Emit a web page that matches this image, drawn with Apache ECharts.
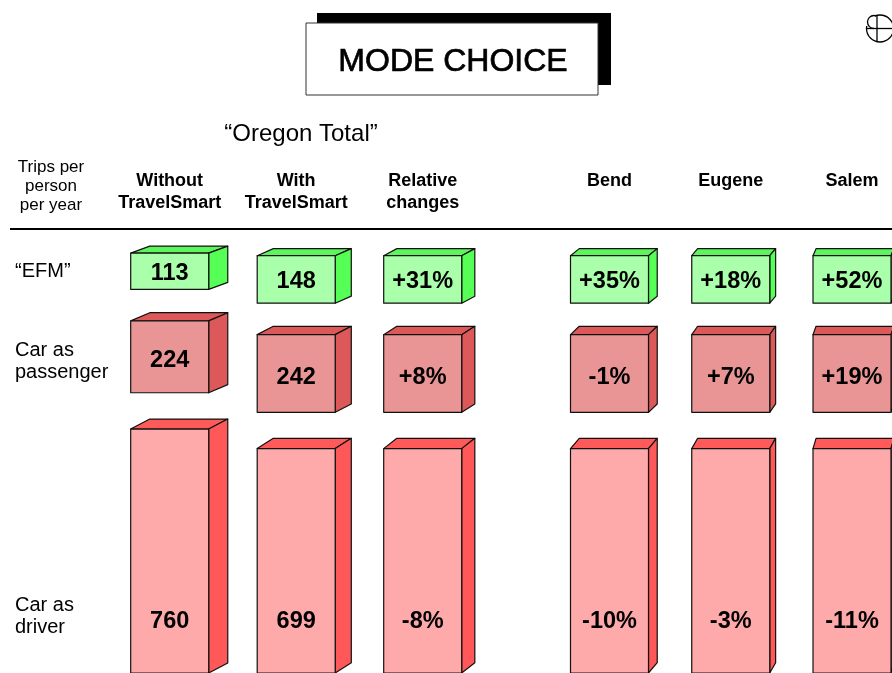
<!DOCTYPE html>
<html>
<head>
<meta charset="utf-8">
<script src="https://cdn.jsdelivr.net/npm/echarts@6/dist/echarts.min.js"></script>
<style>html,body{margin:0;padding:0;background:#fff}#c{width:892px;height:673px}</style>
</head>
<body>
<div id="c"></div>
<script>
// ---- data ----
var oregonCols = ['Without\nTravelSmart', 'With\nTravelSmart', 'Relative\nchanges'];
var cityCols = ['Bend', 'Eugene', 'Salem'];
var modes = ['\u201cEFM\u201d', 'Car as\npassenger', 'Car as\ndriver'];
var withoutTrips = [113, 224, 760];
var withTrips = [148, 242, 699];
var relativeChange = [31, 8, -8];
var bendChange = [35, -1, -10];
var eugeneChange = [18, 7, -3];
var salemChange = [52, 19, -11];

// ---- layout constants ----
var GAP_DP = 113, GAP_PE = 98, DRIVER_LABEL = 160;
var FONT = "'Liberation Sans', Arial, Helvetica, sans-serif";
var rowColors = [
  {front: '#aaffaa', side: '#55ff55', top: '#5cf55c'},
  {front: '#e99595', side: '#dd5858', top: '#dd5858'},
  {front: '#ffaaaa', side: '#ff5858', top: '#ff5a5a'}
];

function stackSegments(trips) {
  var dLo = 0, dHi = trips[2];
  var pLo = dHi + GAP_DP, pHi = pLo + trips[1];
  var eLo = pHi + GAP_PE, eHi = eLo + trips[0];
  return [[eLo, eHi], [pLo, pHi], [dLo, dHi]];
}
function pct(v) { return (v > 0 ? '+' : '') + v + '%'; }

function buildItems(colIdx, trips, labels) {
  var segs = stackSegments(trips);
  return segs.map(function (s, r) {
    return [colIdx, s[0], s[1], r, labels[r]];
  });
}

// percentage boxes share the geometry of the "With TravelSmart" boxes
var data1 = []
  .concat(buildItems(0, withoutTrips, withoutTrips.map(String)))
  .concat(buildItems(1, withTrips, withTrips.map(String)))
  .concat(buildItems(2, withTrips, relativeChange.map(pct)));
var data2 = []
  .concat(buildItems(0, withTrips, bendChange.map(pct)))
  .concat(buildItems(1, withTrips, eugeneChange.map(pct)))
  .concat(buildItems(2, withTrips, salemChange.map(pct)));
var data = [data1, data2];

function renderBox(params, api) {
  var col = api.value(0), lo = api.value(1), hi = api.value(2), row = api.value(3);
  var label = data[params.seriesIndex][params.dataIndex][4];
  var pb = api.coord([col, lo]), pt = api.coord([col, hi]);
  var w = 78;
  var xl = pt[0] - w / 2, xr = pt[0] + w / 2;
  var yt = pt[1], yb = pb[1];
  var dx = 0.0235 * (1020 - xr);
  var dy = 0.017 * (yt + 158);
  var c = rowColors[row];
  var ly = row === 2 ? api.coord([col, lo + DRIVER_LABEL])[1] : (yt + yb) / 2 + (row === 1 ? 4 : 2);
  var stroke = {stroke: '#111', lineWidth: 1.2, lineJoin: 'round'};
  return {
    type: 'group',
    children: [
      {type: 'polygon', shape: {points: [[xl, yt], [xl + dx, yt - dy], [xr + dx, yt - dy], [xr, yt]]},
        style: Object.assign({fill: c.top}, stroke)},
      {type: 'polygon', shape: {points: [[xr, yt], [xr + dx, yt - dy], [xr + dx, yb - dy], [xr, yb]]},
        style: Object.assign({fill: c.side}, stroke)},
      {type: 'rect', shape: {x: xl, y: yt, width: w, height: yb - yt},
        style: Object.assign({fill: c.front}, stroke)},
      {type: 'text', style: {text: label, x: pt[0], y: ly, align: 'center', verticalAlign: 'middle',
        fill: '#000', font: 'bold 23.5px ' + FONT}}
    ]
  };
}

var headerLabel = {
  show: true, interval: 0, color: '#000', fontFamily: FONT, fontWeight: 'bold', fontSize: 18,
  lineHeight: 22, margin: 16,
  formatter: function (v) { return v.indexOf('\n') < 0 ? v + '\n ' : v; }
};

var chart = echarts.init(document.getElementById('c'), null, {renderer: 'canvas'});
chart.setOption({
  animation: false,
  backgroundColor: '#fff',
  grid: [
    {left: 169.7, width: 253, top: 230, height: 450},
    {left: 609.5, width: 242.5, top: 230, height: 450}
  ],
  xAxis: [
    {type: 'category', gridIndex: 0, position: 'top', data: oregonCols, boundaryGap: false,
      axisLine: {show: false}, axisTick: {show: false}, splitLine: {show: false}, axisLabel: headerLabel},
    {type: 'category', gridIndex: 1, position: 'top', data: cityCols, boundaryGap: false,
      axisLine: {show: false}, axisTick: {show: false}, splitLine: {show: false}, axisLabel: headerLabel}
  ],
  yAxis: [
    {type: 'value', gridIndex: 0, min: 0, max: 1380, show: false},
    {type: 'value', gridIndex: 1, min: 0, max: 1380, show: false}
  ],
  series: [
    {type: 'custom', xAxisIndex: 0, yAxisIndex: 0, data: data1, renderItem: renderBox, clip: false,
      encode: {x: 0, y: [1, 2]}},
    {type: 'custom', xAxisIndex: 1, yAxisIndex: 1, data: data2, renderItem: renderBox, clip: false,
      encode: {x: 0, y: [1, 2]}}
  ],
  graphic: [
    // title box
    {type: 'rect', shape: {x: 317, y: 13, width: 294, height: 72}, style: {fill: '#000'}, z: 10},
    {type: 'rect', shape: {x: 306, y: 23, width: 292, height: 72}, style: {fill: '#fff', stroke: '#333', lineWidth: 1}, z: 11},
    {type: 'text', z: 12, style: {text: 'MODE CHOICE', x: 453, y: 62, align: 'center', verticalAlign: 'middle',
      font: '32px ' + FONT, fill: '#000', stroke: '#000', lineWidth: 0.7}},
    // logo
    {type: 'group', z: 10, children: [
      {type: 'arc', shape: {cx: 880, cy: 28.5, r: 13.5, startAngle: 0, endAngle: Math.PI * 2},
        style: {fill: 'none', stroke: '#000', lineWidth: 1.3}},
      {type: 'line', shape: {x1: 877, y1: 15, x2: 877, y2: 42}, style: {stroke: '#000', lineWidth: 1.3}},
      {type: 'line', shape: {x1: 867, y1: 28.5, x2: 892, y2: 28.5}, style: {stroke: '#000', lineWidth: 1.3}},
      {type: 'rect', shape: {x: 866, y: 14, width: 9, height: 12}, style: {fill: '#fff'}},
      {type: 'arc', shape: {cx: 874, cy: 22, r: 6.5, startAngle: Math.PI * 0.5, endAngle: Math.PI * 1.6},
        style: {fill: 'none', stroke: '#000', lineWidth: 1.3}}
    ]},
    {type: 'text', style: {text: '\u201cOregon Total\u201d', x: 301, y: 134, align: 'center', verticalAlign: 'middle',
      font: '24px ' + FONT, fill: '#000'}},
    {type: 'text', style: {text: 'Trips per\nperson\nper year', x: 51, y: 186, align: 'center', verticalAlign: 'middle',
      font: '17px ' + FONT, lineHeight: 19, fill: '#000'}},
    {type: 'line', shape: {x1: 10, y1: 229, x2: 892, y2: 229}, style: {stroke: '#000', lineWidth: 2}},
    {type: 'text', style: {text: modes[0], x: 15, y: 271, align: 'left', verticalAlign: 'middle',
      font: '20px ' + FONT, fill: '#000'}},
    {type: 'text', style: {text: modes[1], x: 15, y: 361, align: 'left', verticalAlign: 'middle',
      font: '20px ' + FONT, lineHeight: 22, fill: '#000'}},
    {type: 'text', style: {text: modes[2], x: 15, y: 616.5, align: 'left', verticalAlign: 'middle',
      font: '20px ' + FONT, lineHeight: 22, fill: '#000'}}
  ]
});
</script>
</body>
</html>
